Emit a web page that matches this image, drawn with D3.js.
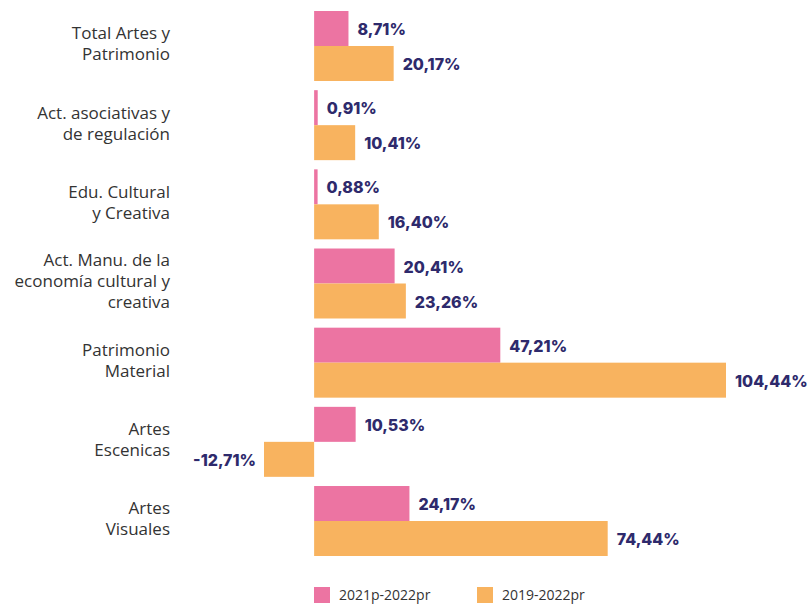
<!DOCTYPE html>
<html><head><meta charset="utf-8">
<script src="https://cdn.jsdelivr.net/npm/d3@7"></script>
<style>body{margin:0;background:#fff}svg{display:block}</style>
</head><body>
<svg id="chart" width="812" height="606"></svg>
<script>
const categories = [
  ["Total Artes y","Patrimonio"],
  ["Act. asociativas y","de regulación"],
  ["Edu. Cultural","y Creativa"],
  ["Act. Manu. de la","economía cultural y","creativa"],
  ["Patrimonio","Material"],
  ["Artes","Escenicas"],
  ["Artes","Visuales"]
];
const seriesNames = ["2021p-2022pr","2019-2022pr"];
const values2021 = [8.71, 0.91, 0.88, 20.41, 47.21, 10.53, 24.17];
const values2019 = [20.17, 10.41, 16.40, 23.26, 104.44, -12.71, 74.44];
const colors = ["#EC74A2","#F8B35F"];

const svg = d3.select("#chart");
const keys = categories.map((c,i)=>i);
const y = d3.scaleBand().domain(keys).range([11,556]).paddingInner(0.116).paddingOuter(0);
const sub = d3.scaleBand().domain([0,1]).range([0,y.bandwidth()]).padding(0);
const x = d3.scaleLinear().domain([-12.71,104.44]).range([264,726]);
const fmt = v => d3.format(".2f")(v).replace(".",",").replace("\u2212","-") + "%";

const series = [values2021, values2019];
series.forEach((vals,s)=>{
  const g = svg.append("g");
  g.selectAll("rect").data(vals).join("rect")
    .attr("x", d=>x(Math.min(0,d)))
    .attr("width", d=>Math.abs(x(d)-x(0)))
    .attr("y", (d,i)=>y(i)+sub(s))
    .attr("height", sub.bandwidth())
    .attr("fill", colors[s]);
  g.selectAll("text").data(vals).join("text")
    .attr("x", d=> d>=0 ? x(d)+9 : x(d)-8)
    .attr("y", (d,i)=>y(i)+sub(s)+sub.bandwidth()/2+1)
    .attr("dy","0.35em")
    .attr("text-anchor", d=> d>=0 ? "start":"end")
    .attr("font-family","Inter, sans-serif")
    .attr("font-weight",800)
    .attr("font-size","16px")
    .attr("fill","#2E2A6C")
    .text(fmt);
});

// category labels
const lh = 21;
const cg = svg.append("g");
categories.forEach((lines,i)=>{
  const cy = y(i)+y.bandwidth()/2 - 2;
  const t = cg.append("text")
    .attr("text-anchor","end")
    .attr("font-family","'Open Sans', sans-serif")
    .attr("font-size","17px")
    .attr("fill","#333333");
  lines.forEach((ln,j)=>{
    t.append("tspan").attr("x",170)
      .attr("y", cy + (j-(lines.length-1)/2)*lh)
      .attr("dy","0.35em").text(ln);
  });
});

// legend
const legX = [314, 477];
const lg = svg.append("g");
seriesNames.forEach((n,i)=>{
  lg.append("rect").attr("x",legX[i]).attr("y",587).attr("width",16).attr("height",16).attr("fill",colors[i]);
  lg.append("text").attr("x",legX[i]+25).attr("y",595).attr("dy","0.35em")
    .attr("font-family","'Open Sans', sans-serif").attr("font-size","14px").attr("fill","#333333").text(n);
});
</script>
</body></html>
